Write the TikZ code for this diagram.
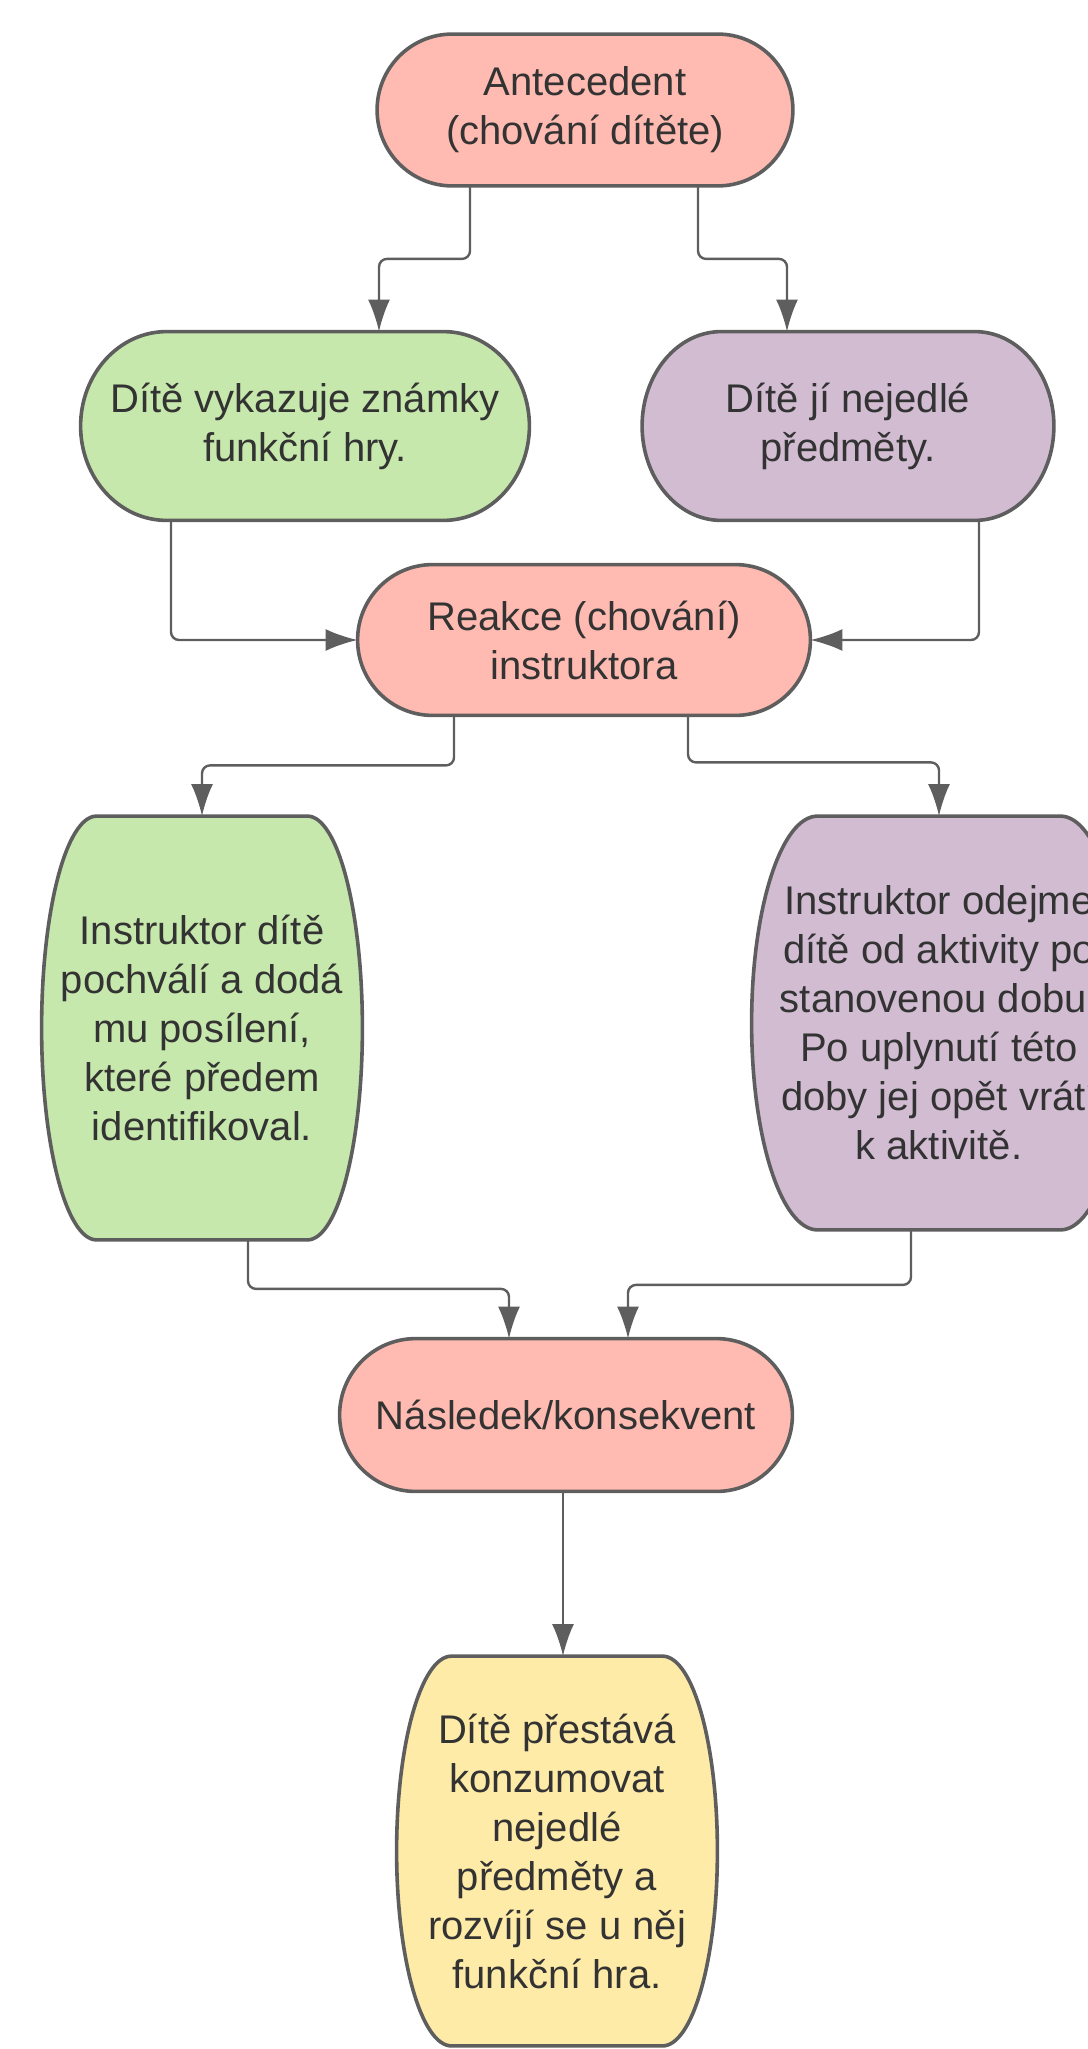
\documentclass[tikz,border=0pt]{standalone}
\usepackage{fontspec}
\setmainfont{Liberation Sans}
\usetikzlibrary{calc,arrows.meta,backgrounds}
\definecolor{ink}{HTML}{333333}
\definecolor{edge}{HTML}{5E5E5E}
\definecolor{pinkfill}{HTML}{FFBBB1}
\definecolor{greenfill}{HTML}{C7E8AC}
\definecolor{lilacfill}{HTML}{D1BCD2}
\definecolor{yellowfill}{HTML}{FFEBA8}
\newcommand{\terminal}[3]{%
  \draw[border, fill=#2] let \p1=(#1.north west), \p2=(#1.south east), \n1={0.5*(\y1-\y2)} in
    ($(#1.north west)+(#3,0)$) -- ($(#1.north east)+(-#3,0)$)
    arc[start angle=90, end angle=-90, x radius=#3*0.5pt, y radius=\n1*1pt]
    -- ($(#1.south west)+(#3,0)$)
    arc[start angle=270, end angle=90, x radius=#3*0.5pt, y radius=\n1*1pt] -- cycle;}
\begin{document}
\begin{tikzpicture}[x=0.5pt, y=0.5pt,
    box/.style={inner sep=0pt, align=center, text=ink, font=\fontsize{20}{24.5}\selectfont},
    dims/.style 2 args={minimum width=#1*0.5pt, minimum height=#2*0.5pt},
    border/.style={draw=edge, line width=1.8pt},
    conn/.style={draw=edge, line width=1.2pt, rounded corners=4pt, -{Latex[length=16pt, width=11pt]}}]
    \useasboundingbox (0,0) rectangle (1087,-2049);
    \clip (0,0) rectangle (1087,-2049);
	\node[box, dims={415}{151}] (ante) at (585,-110) {Antecedent\\(chování dítěte)};
    \node[box, dims={448}{188}] (play) at (305,-426) {Dítě vykazuje známky\\funkční hry.};
    \node[box, dims={411}{188}] (pica) at (848,-426) {Dítě jí nejedlé\\předměty.};
    \node[box, dims={452}{150}] (react) at (584,-640) {Reakce (chování)\\instruktora};
    \node[box, dims={320}{423}] (praise) at (202,-1028) {Instruktor dítě\\pochválí a dodá\\mu posílení,\\které předem\\identifikoval.};
    \node[box, dims={374}{413}] (timeout) at (939,-1023) {Instruktor odejme\\dítě od aktivity po\\stanovenou dobu.\\Po uplynutí této\\doby jej opět vrátí\\k aktivitě.};
    \node[box, dims={452}{152}] (conseq) at (566,-1415) {Následek/konsekvent};
    \node[box, dims={320}{389}] (result) at (557,-1851) {Dítě přestává\\konzumovat\\nejedlé\\předměty a\\rozvíjí se u něj\\funkční hra.};
    \begin{scope}[on background layer]
    \terminal{ante}{pinkfill}{75}
    \terminal{play}{greenfill}{86}
    \terminal{pica}{lilacfill}{79}
    \terminal{react}{pinkfill}{75}
    \terminal{praise}{greenfill}{55}
    \terminal{timeout}{lilacfill}{66}
    \terminal{conseq}{pinkfill}{76}
    \terminal{result}{yellowfill}{55}
    \end{scope}
    \draw[conn] ($(ante.south)+(-115,0)$) -- ++(0,-73) -| ($(play.north)+(74,0)$);
    \draw[conn] ($(ante.south)+(113,0)$) -- ++(0,-73) -| ($(pica.north)+(-61,0)$);
    \draw[conn] ($(play.south)+(-134,0)$) |- (react.west);
    \draw[conn] ($(pica.south)+(131,0)$) |- (react.east);
    \draw[conn] ($(react.south)+(-130,0)$) -- ++(0,-50) -| (praise.north);
    \draw[conn] ($(react.south)+(104,0)$) -- ++(0,-47) -| (timeout.north);
    \draw[conn] ($(praise.south)+(46,0)$) -- ++(0,-49) -| ($(conseq.north)+(-57,0)$);
    \draw[conn] ($(timeout.south)+(-28,0)$) -- ++(0,-55) -| ($(conseq.north)+(62,0)$);
    \draw[conn] ($(conseq.south)+(-3,0)$) -- ($(result.north)+(6,0)$);
\end{tikzpicture}
\end{document}
